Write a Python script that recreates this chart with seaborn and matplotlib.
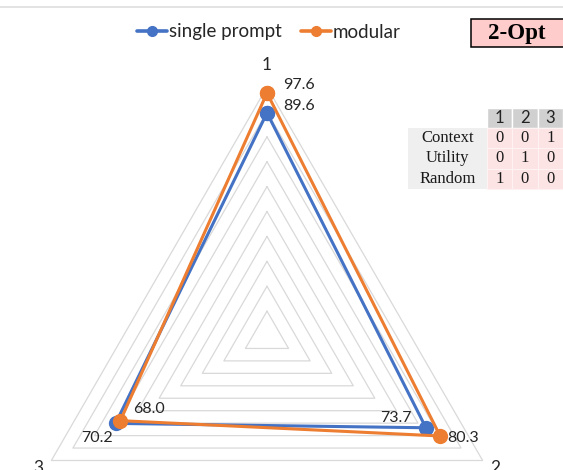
import numpy as np
import pandas as pd
import matplotlib
matplotlib.use("Agg")
import matplotlib.pyplot as plt
import seaborn as sns
from matplotlib.patches import Rectangle
from matplotlib.lines import Line2D

# ---------------- data ----------------
axis_labels = ["1", "2", "3"]
series_names = ["single prompt", "modular"]
single_prompt = [89.6, 73.7, 70.2]
modular = [97.6, 80.3, 68.0]
grid_levels = [10, 20, 30, 40, 50, 60, 70, 80, 90, 100]

badge_text = "2-Opt"
table_cols = ["1", "2", "3"]
table_rows = ["Context", "Utility", "Random"]
table_vals = [[0, 0, 1],
              [0, 1, 0],
              [1, 0, 0]]

# ---------------- style ----------------
sns.set_theme(style="white")
plt.rcParams["font.family"] = ["Lato", "DejaVu Sans"]
colors = {"single prompt": "#4472C4", "modular": "#ED7D31"}
grid_color = "#d9d9d9"
text_color = "#262626"

W, H = 563, 470
fig = plt.figure(figsize=(W / 100, H / 100), dpi=100)
fig.patch.set_facecolor("white")

cx, cy, R = 267, 336, 249
ax = fig.add_axes([(cx - R) / W, (H - cy - R) / H, 2 * R / W, 2 * R / H],
                  projection="polar")
ax.set_theta_zero_location("N")
ax.set_theta_direction(-1)
ax.patch.set_alpha(0)
ax.spines["polar"].set_visible(False)

n = len(axis_labels)
theta = np.arange(n) * 2 * np.pi / n
theta_closed = np.append(theta, 2 * np.pi)

for lv in grid_levels:
    ax.plot(theta_closed, [lv] * (n + 1), color=grid_color, lw=0.9,
            clip_on=False, zorder=1)

rows = []
for name, vals in zip(series_names, [single_prompt, modular]):
    vv = list(vals) + [vals[0]]
    for t, v in zip(theta_closed, vv):
        rows.append({"series": name, "theta": t, "value": v})
df = pd.DataFrame(rows)

sns.lineplot(data=df, x="theta", y="value", hue="series",
             hue_order=series_names, palette=colors, sort=False,
             estimator=None, marker="o", markersize=11, linewidth=2.2,
             markeredgewidth=0, legend=False, ax=ax, clip_on=False, zorder=3)

ax.set_ylim(0, 100)
ax.grid(False)
ax.set_xticks([])
ax.set_yticks([])
ax.set_xlabel("")
ax.set_ylabel("")

# axis category labels
label_r = [109, 106, 106]
for t, lab, rr in zip(theta, axis_labels, label_r):
    ax.text(t, rr, lab, ha="center", va="center", fontsize=12.5,
            color=text_color, clip_on=False)

# data labels (offsets in pixels, alignment)
label_style = {
    ("single prompt", 0): (16, 7, "left"),
    ("modular", 0): (16, 8, "left"),
    ("single prompt", 1): (-14, 10, "right"),
    ("modular", 1): (7, -2, "left"),
    ("single prompt", 2): (-3, -15, "right"),
    ("modular", 2): (13, 12, "left"),
}
for name, vals in zip(series_names, [single_prompt, modular]):
    for i, v in enumerate(vals):
        dx, dy, ha = label_style[(name, i)]
        ax.annotate(f"{v:.1f}", (theta[i], v), xytext=(dx, dy),
                    textcoords="offset pixels", ha=ha, va="center",
                    fontsize=11.5, color=text_color, annotation_clip=False,
                    zorder=5)

# legend
handles = [Line2D([], [], color=colors[s], lw=2.6, marker="o", markersize=7)
           for s in series_names]
fig.legend(handles, series_names, loc="center",
           bbox_to_anchor=(269 / W, 1 - 32 / H), ncol=2, frameon=False,
           handlelength=1.6, handletextpad=0.08, columnspacing=1.05,
           fontsize=13.5, labelcolor=text_color)

# ---------------- overlay (badge, table, top rule) ----------------
ov = fig.add_axes([0, 0, 1, 1], zorder=10)
ov.set_xlim(0, W)
ov.set_ylim(H, 0)
ov.axis("off")
ov.patch.set_alpha(0)

ov.plot([0, W], [7, 7], color="#dedede", lw=1.2)

ov.add_patch(Rectangle((471, 19), 110, 28, facecolor="#ffcccc",
                       edgecolor="black", lw=1.1, clip_on=False))
ov.text(517, 33.5, badge_text, ha="center", va="center", fontsize=16.5,
        fontweight="bold", family=["Liberation Serif", "DejaVu Serif"],
        color="black")

tx0, lab_w = 408, 79
col_w = 25.3
hy0, hh = 108, 19.5
rh = 20.5
by0 = hy0 + hh
for j, c in enumerate(table_cols):
    x = tx0 + lab_w + j * col_w
    ov.add_patch(Rectangle((x, hy0), col_w, hh, facecolor="#d0d0d0",
                           edgecolor="white", lw=1.0))
    ov.text(x + col_w / 2, hy0 + hh / 2 + 0.5, c, ha="center", va="center",
            fontsize=12, color="#222222")
for i, rname in enumerate(table_rows):
    y = by0 + i * rh
    ov.add_patch(Rectangle((tx0, y), lab_w, rh, facecolor="#efefef",
                           edgecolor="none"))
    ov.text(tx0 + lab_w / 2, y + rh / 2, rname, ha="center", va="center",
            fontsize=12, family=["Liberation Serif", "DejaVu Serif"],
            color="#1a1a1a")
    for j, v in enumerate(table_vals[i]):
        x = tx0 + lab_w + j * col_w
        ov.add_patch(Rectangle((x, y), col_w, rh, facecolor="#fde4e4",
                               edgecolor="#fff2f2", lw=0.8))
        ov.text(x + col_w / 2, y + rh / 2, str(v), ha="center", va="center",
                fontsize=12, family=["Liberation Serif", "DejaVu Serif"],
                color="#1a1a1a")

fig.savefig("out.png", dpi=100)
